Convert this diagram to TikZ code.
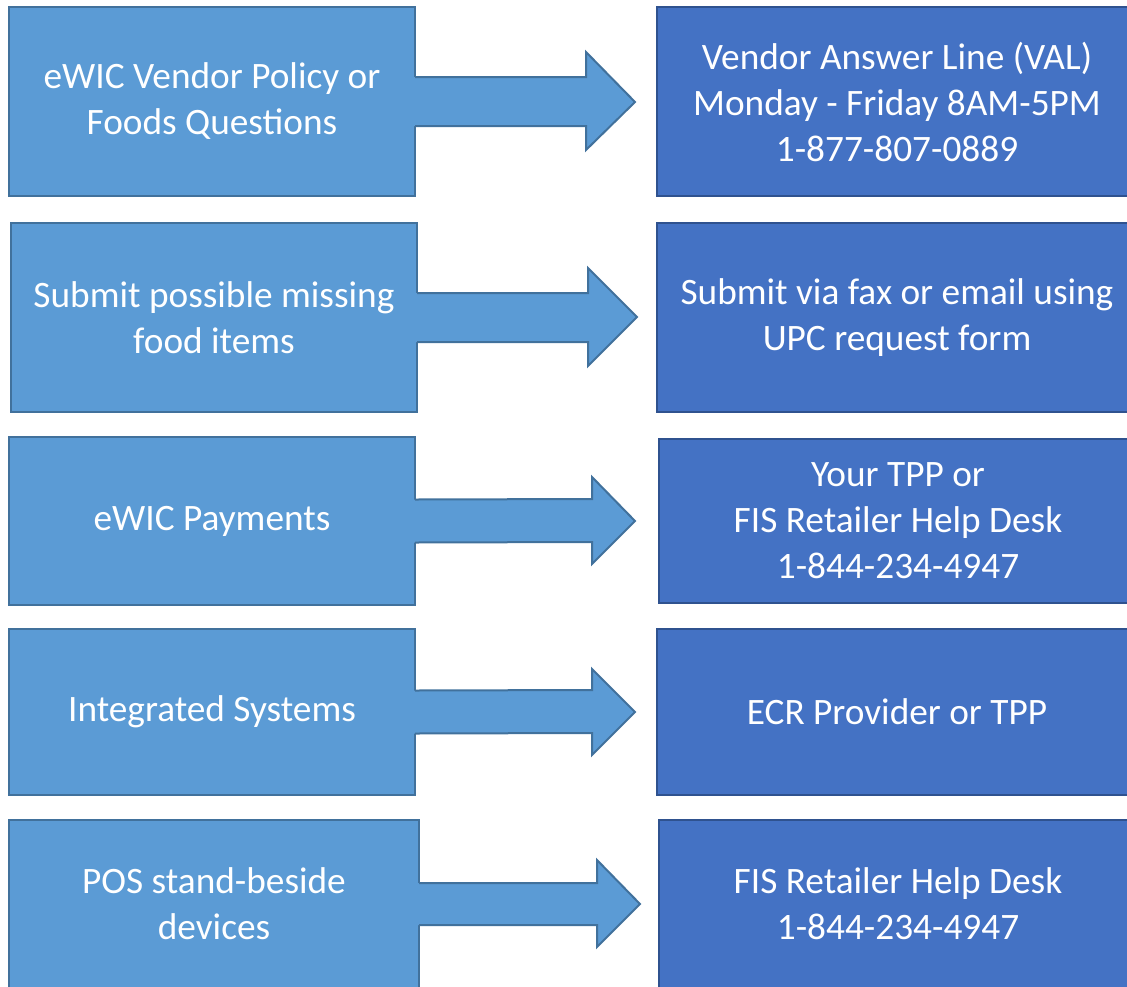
\documentclass[tikz,border=0pt]{standalone}
\usepackage{fontspec}
\setmainfont{Carlito}
\usetikzlibrary{calc}
\definecolor{askfill}{HTML}{5B9BD5}
\definecolor{askline}{HTML}{41719C}
\definecolor{contactfill}{HTML}{4472C4}
\definecolor{contactline}{HTML}{2F528F}
\begin{document}
\begin{tikzpicture}[x=1pt,y=-1pt,
  askbox/.style={draw=askline,fill=askfill,line width=2pt,inner sep=0pt,outer sep=0pt,
    anchor=north west,text=white,align=center,font=\fontsize{37.3}{46}\selectfont},
  contactbox/.style={askbox,draw=contactline,fill=contactfill},
  arrowbody/.style={fill=askfill},
  arrowline/.style={draw=askline,line width=2pt,line join=miter}]
\useasboundingbox (0,0) rectangle (1127,986);
% questions on the left
\node[askbox,minimum width=406pt,minimum height=189pt] (ask1) at (9,7) {eWIC Vendor Policy or\\Foods Questions};
\node[askbox,minimum width=406pt,minimum height=189pt] (ask2) at (11,223) {Submit possible missing\\food items};
\node[askbox,minimum width=406pt,minimum height=168pt] (ask3) at (9,437) {eWIC Payments};
\node[askbox,minimum width=406pt,minimum height=166pt] (ask4) at (9,629) {Integrated Systems};
\node[askbox,minimum width=410pt,minimum height=168pt] (ask5) at (9,820) {POS stand-beside\\devices};
% contacts on the right
\node[contactbox,minimum width=480pt,minimum height=189pt] (contact1) at (657,7) {Vendor Answer Line (VAL)\\Monday - Friday 8AM-5PM\\1-877-807-0889};
\node[contactbox,minimum width=480pt,minimum height=189pt] (contact2) at (657,223) {Submit via fax or email using\\UPC request form};
\node[contactbox,minimum width=478pt,minimum height=164pt] (contact3) at (659,439) {Your TPP or\\FIS Retailer Help Desk\\1-844-234-4947};
\node[contactbox,minimum width=480pt,minimum height=166pt] (contact4) at (657,629) {ECR Provider or TPP};
\node[contactbox,minimum width=478pt,minimum height=168pt] (contact5) at (659,820) {FIS Retailer Help Desk\\1-844-234-4947};
% arrow tips
\coordinate (tip1) at ($(contact1.west)+(-22,0.5)$);
\coordinate (tip2) at ($(contact2.west)+(-20,-0.5)$);
\coordinate (tip3) at ($(contact3.west)+(-24,0)$);
\coordinate (tip4) at ($(contact4.west)+(-22,0)$);
\coordinate (tip5) at ($(contact5.west)+(-19,0)$);
% arrows
\fill[arrowbody] ($(ask1.east)+(-3,-24.5)$) -- (586,77) -- (586,52) -- (tip1) -- (586,150) -- (586,126) -- ($(ask1.east)+(-3,24.5)$) -- cycle;
\draw[arrowline] ($(ask1.east)+(0,-24.5)$) -- (586,77) -- (586,52) -- (tip1) -- (586,150) -- (586,126) -- ($(ask1.east)+(0,24.5)$);
\fill[arrowbody] ($(ask2.east)+(-3,-24.5)$) -- (588,293) -- (588,268) -- (tip2) -- (588,366) -- (588,342) -- ($(ask2.east)+(-3,24.5)$) -- cycle;
\draw[arrowline] ($(ask2.east)+(0,-24.5)$) -- (588,293) -- (588,268) -- (tip2) -- (588,366) -- (588,342) -- ($(ask2.east)+(0,24.5)$);
\fill[arrowbody] ($(ask3.east)+(-3,-21.5)$) -- (592,499) -- (592,477) -- (tip3) -- (592,564) -- (592,542) -- ($(ask3.east)+(-3,21.5)$) -- cycle;
\draw[arrowline] ($(ask3.east)+(0,-21.5)$) -- (592,499) -- (592,477) -- (tip3) -- (592,564) -- (592,542) -- ($(ask3.east)+(0,21.5)$);
\fill[arrowbody] ($(ask4.east)+(-3,-21.5)$) -- (592,690) -- (592,669) -- (tip4) -- (592,755) -- (592,733) -- ($(ask4.east)+(-3,21.5)$) -- cycle;
\draw[arrowline] ($(ask4.east)+(0,-21.5)$) -- (592,690) -- (592,669) -- (tip4) -- (592,755) -- (592,733) -- ($(ask4.east)+(0,21.5)$);
\fill[arrowbody] ($(ask5.east)+(-3,-21)$) -- (597,883) -- (597,860) -- (tip5) -- (597,947) -- (597,925) -- ($(ask5.east)+(-3,21)$) -- cycle;
\draw[arrowline] ($(ask5.east)+(0,-21)$) -- (597,883) -- (597,860) -- (tip5) -- (597,947) -- (597,925) -- ($(ask5.east)+(0,21)$);
\end{tikzpicture}
\end{document}
